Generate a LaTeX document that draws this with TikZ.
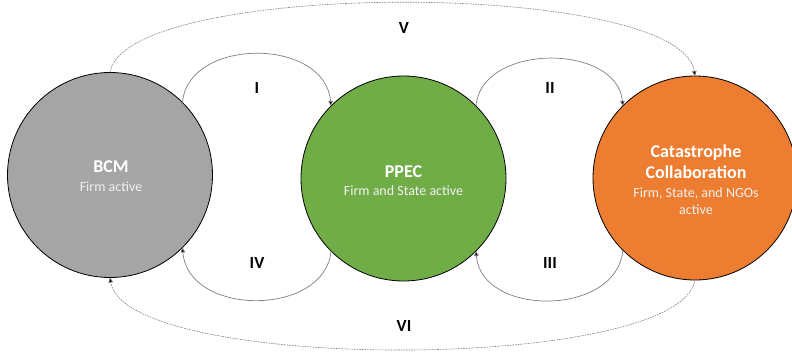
\documentclass[tikz,border=0pt]{standalone}
\usepackage{fontspec}
\setmainfont{Carlito}
\usetikzlibrary{arrows.meta}
\definecolor{bcmgray}{HTML}{A5A5A5}
\definecolor{ppecgreen}{HTML}{70AD47}
\definecolor{catorange}{HTML}{ED7D31}
\definecolor{linegray}{HTML}{7F7F7F}
\begin{document}
\begin{tikzpicture}[x=1pt,y=-1pt,
  stage/.style={circle,draw=black,line width=0.8pt,minimum size=205pt,inner sep=0pt,outer sep=0pt},
  title/.style={anchor=base,text=white,font=\fontsize{18}{22}\selectfont\bfseries,inner sep=0pt},
  subtitle/.style={anchor=base,text=white!94!black,font=\fontsize{14}{17}\selectfont,inner sep=0pt},
  numlabel/.style={anchor=center,text=black,font=\fontsize{17}{20}\selectfont\bfseries,inner sep=0pt},
  flow/.style={draw=linegray,line width=0.7pt,-{Triangle[length=5pt,width=4.5pt,fill=black]}},
  jump/.style={draw=linegray,line width=0.6pt,dash pattern=on 1.6pt off 1pt,-{Triangle[length=5pt,width=4.5pt,fill=black]}}]
\useasboundingbox (0,0) rectangle (792,353);
\node[stage,fill=bcmgray] (bcm) at (110,175) {};
\node[stage,fill=ppecgreen] (ppec) at (403.5,178.5) {};
\node[stage,fill=catorange,minimum size=204pt] (cat) at (695,178) {};

\node[title] (bcmt) at (111,172.5) {BCM};
\node[subtitle] (bcms) at (111,191.5) {Firm active};
\node[title] (ppect) at (403.5,177) {PPEC};
\node[subtitle] (ppecs) at (403.5,195.5) {Firm and State active};
\node[title] (catt1) at (696,157) {Catastrophe};
\node[title] (catt2) at (696,178) {Collaboration};
\node[subtitle] (cats1) at (696,197.5) {Firm, State, and NGOs};
\node[subtitle] (cats2) at (696,214) {active};

\draw[flow] (bcm.45) .. controls +(5.5,-65.5) and +(-6,-69) .. (ppec.135);
\draw[flow] (ppec.45) .. controls +(5,-63) and +(-6,-63) .. (cat.135);
\draw[flow] (ppec.225) .. controls +(-6,66) and +(5.5,69.5) .. (bcm.315);
\draw[flow] (cat.225) .. controls +(-6,67) and +(5,66) .. (ppec.315);
\draw[jump] (bcm.90) .. controls +(15,-93.5) and +(-15,-97) .. (cat.90);
\draw[jump] (cat.270) .. controls +(-15,93) and +(15,95.5) .. (bcm.270);

\node[numlabel] (l1) at (257,88) {I};
\node[numlabel] (l2) at (550,88) {II};
\node[numlabel] (l4) at (257,263) {IV};
\node[numlabel] (l3) at (550,263) {III};
\node[numlabel] (l5) at (404,28) {V};
\node[numlabel] (l6) at (404,326) {VI};
\end{tikzpicture}
\end{document}
